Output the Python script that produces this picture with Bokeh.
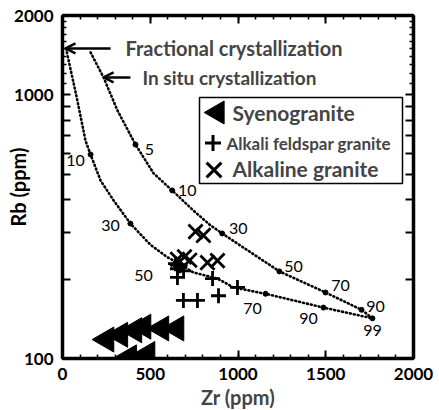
import math
from bokeh.plotting import figure
from bokeh.models import (FixedTicker, Label, Arrow, OpenHead, ColumnDataSource,
                          CustomJSTickFormatter, LinearAxis, LogAxis, NumeralTickFormatter,
                          Range1d, LinearScale, BoxAnnotation, Title)
from bokeh.embed import file_html
from bokeh.resources import INLINE

FONT = "Lato"

# ---------------- data ----------------
syeno_zr = [251, 330, 410, 462, 564, 650, 380, 485]
syeno_rb = [118, 123, 128, 132, 130, 130, 101, 104]

afg_zr = [644, 655, 655, 670, 690, 855, 997, 689, 769, 889]
afg_rb = [229, 219, 203, 225, 215, 201, 186, 166, 166, 173]

alk_zr = [758, 803, 655, 695, 725, 826, 883]
alk_rb = [303, 293, 238, 243, 236, 231, 235]

frac_zr = [20, 85, 131, 160, 217, 291, 387, 501, 598, 650, 746, 883, 974, 1157, 1487, 1766]
frac_rb = [1500, 950, 670, 594, 473, 398, 325, 270, 242, 232, 212, 201, 186, 176, 156, 142]
frac_mark_zr = [160, 387, 650, 1157, 1487, 1766]
frac_mark_rb = [594, 325, 232, 176, 156, 142]
frac_mark_lbl = ["10", "30", "50", "70", "90", "99"]

insitu_zr = [160, 234, 313, 416, 519, 625, 746, 843, 910, 1236, 1499, 1704, 1766]
insitu_rb = [1449, 1164, 873, 648, 504, 434, 364, 320, 298, 214, 178, 153, 142]
insitu_mark_zr = [416, 625, 910, 1236, 1499, 1704]
insitu_mark_rb = [648, 434, 298, 214, 178, 153]
insitu_mark_lbl = ["5", "10", "30", "50", "70", "90"]

x_major = [0, 500, 1000, 1500, 2000]
x_minor = list(range(0, 2001, 100))
y_major = [100, 200, 300, 400, 500, 600, 700, 800, 900, 1000, 2000]
y_minor = list(range(1100, 2000, 100))
y_labels = {100: "100", 1000: "1000", 2000: "2000"}

legend_names = ["Syenogranite", "Alkali feldspar granite", "Alkaline granite"]

# ---------------- layout / style constants ----------------
frac_dx = [-15, -20, -33, -13, -15, 0]
frac_dy = [6, 2, 13, 15, 11, 12]
insitu_dx = [14, 15, 16, 14, 15, 14]
insitu_dy = [5, 0, -5, -5, -7, -3]

FRAME_W, FRAME_H = 351, 343
# legend layout in frame pixels (x from frame left, y from frame bottom)
LEG_BOX = dict(left=137, right=340, bottom=175, top=261)
LEG_GLYPH_X = [155, 150.5, 151.5]
LEG_GLYPH_Y = [246, 215.5, 188.5]
LEG_TEXT_X = [170, 164, 170]
LEG_TEXT_Y = [246, 215, 190]
LEG_TEXT_SIZE = ["21px", "17px", "21px"]

# ---------------- figure ----------------
p = figure(width=439, height=410, x_range=(0, 2000), y_range=(100, 2000),
           y_axis_type="log", output_backend="svg", toolbar_location=None,
           min_border_left=62, min_border_right=26, min_border_top=15,
           min_border_bottom=52)
p.grid.visible = False
p.outline_line_color = "black"
p.outline_line_width = 3
p.background_fill_color = "white"
p.extra_x_ranges = {"px": Range1d(0, FRAME_W)}
p.extra_y_ranges = {"px": Range1d(0, FRAME_H)}
p.extra_x_scales = {"px": LinearScale()}
p.extra_y_scales = {"px": LinearScale()}


def style_axis(ax, labels=True):
    ax.axis_line_width = 3.5
    ax.axis_line_color = "black"
    ax.major_tick_in = 8
    ax.major_tick_out = 0
    ax.minor_tick_in = 4
    ax.minor_tick_out = 0
    ax.major_tick_line_width = 2
    ax.minor_tick_line_width = 1.5
    ax.major_tick_line_color = "black"
    ax.minor_tick_line_color = "black"
    ax.major_label_text_font = FONT
    ax.major_label_text_font_style = "bold"
    ax.major_label_text_font_size = "17px"
    ax.major_label_text_color = "black"
    ax.axis_label_text_font = FONT
    ax.axis_label_text_font_style = "bold"
    ax.axis_label_text_font_size = "20px"
    ax.axis_label_text_color = "black"
    if not labels:
        ax.major_label_text_font_size = "1px"
        ax.major_label_standoff = 0
        ax.formatter = CustomJSTickFormatter(code="return ''")


p.xaxis.ticker = FixedTicker(ticks=x_major, minor_ticks=x_minor)
style_axis(p.xaxis[0])
p.xaxis.major_label_standoff = 9

p.yaxis.ticker = FixedTicker(ticks=y_major, minor_ticks=y_minor)
style_axis(p.yaxis[0])
p.yaxis.formatter = NumeralTickFormatter(format="0")
p.yaxis.major_label_overrides = {v: y_labels.get(v, "") for v in y_major}
p.yaxis.major_label_standoff = 9
p.yaxis.axis_label = "Rb (ppm)"
p.yaxis.axis_label_standoff = -19

top = LinearAxis(ticker=FixedTicker(ticks=x_major, minor_ticks=x_minor))
style_axis(top, labels=False)
p.add_layout(top, "above")
right = LogAxis(ticker=FixedTicker(ticks=y_major, minor_ticks=y_minor))
style_axis(right, labels=False)
p.add_layout(right, "right")

p.add_layout(Title(text="Zr (ppm)", align="center", offset=16, text_font=FONT,
                   text_font_style="bold", text_font_size="20px", standoff=0),
             "below")

# ---------------- model curves ----------------
p.line(frac_zr, frac_rb, line_color="black", line_width=2.6, line_dash="1 3",
       line_cap="round")
p.line(insitu_zr, insitu_rb, line_color="black", line_width=2.6, line_dash="1 3",
       line_cap="round")
p.scatter(frac_mark_zr, frac_mark_rb, size=5, color="black")
p.scatter(insitu_mark_zr, insitu_mark_rb, size=5, color="black")

fsrc = ColumnDataSource(dict(x=frac_mark_zr, y=frac_mark_rb, t=frac_mark_lbl,
                             dx=frac_dx, dy=frac_dy))
isrc = ColumnDataSource(dict(x=insitu_mark_zr, y=insitu_mark_rb, t=insitu_mark_lbl,
                             dx=insitu_dx, dy=insitu_dy))
for src in (fsrc, isrc):
    p.text(x="x", y="y", text="t", x_offset="dx", y_offset="dy", source=src,
           text_font={"value": FONT}, text_font_size="16px", text_color="black",
           text_align="center", text_baseline="middle")

# ---------------- samples ----------------
p.scatter(syeno_zr, syeno_rb, marker="triangle", size=25, angle=math.pi / 2,
          fill_color="black", line_color="black")
p.scatter(afg_zr, afg_rb, marker="cross", size=15, line_color="black", line_width=2.8)
p.scatter(alk_zr, alk_rb, marker="x", size=20, line_color="black", line_width=2.8)

# ---------------- annotations ----------------
arrow_frac = dict(x_start=274, x_end=17, y=1500)
arrow_insitu = dict(x_start=387, x_end=234, y=1164)
for a in (arrow_frac, arrow_insitu):
    p.add_layout(Arrow(end=OpenHead(size=10, line_width=2.5, line_color="black"),
                       x_start=a["x_start"], y_start=a["y"], x_end=a["x_end"],
                       y_end=a["y"], line_width=2.5, line_color="black"))

p.add_layout(Label(x=359, y=1500, text="Fractional crystallization", text_font=FONT,
                   text_font_style="bold", text_font_size="20px",
                   text_baseline="middle", text_align="left"))
p.add_layout(Label(x=456, y=1164, text="In situ crystallization", text_font=FONT,
                   text_font_style="bold", text_font_size="19px",
                   text_baseline="middle", text_align="left"))

# ---------------- legend (drawn in frame-pixel coordinates) ----------------
p.add_layout(BoxAnnotation(x_range_name="px", y_range_name="px", fill_color="white",
                           fill_alpha=1.0, line_color="black", line_width=1.5,
                           line_alpha=1.0, **LEG_BOX))
p.scatter([LEG_GLYPH_X[0]], [LEG_GLYPH_Y[0]], x_range_name="px", y_range_name="px",
          marker="triangle", size=23, angle=math.pi / 2, fill_color="black",
          line_color="black", level="overlay")
p.scatter([LEG_GLYPH_X[1]], [LEG_GLYPH_Y[1]], x_range_name="px", y_range_name="px",
          marker="cross", size=16, line_color="black", line_width=3, level="overlay")
p.scatter([LEG_GLYPH_X[2]], [LEG_GLYPH_Y[2]], x_range_name="px", y_range_name="px",
          marker="x", size=21, line_color="black", line_width=3, level="overlay")
for name, tx, ty, fs in zip(legend_names, LEG_TEXT_X, LEG_TEXT_Y, LEG_TEXT_SIZE):
    p.add_layout(Label(x=tx, y=ty, x_range_name="px", y_range_name="px", text=name,
                       text_font=FONT, text_font_style="bold", text_font_size=fs,
                       text_baseline="middle", text_align="left", level="overlay"))

open("out.html", "w").write(file_html(p, INLINE))
